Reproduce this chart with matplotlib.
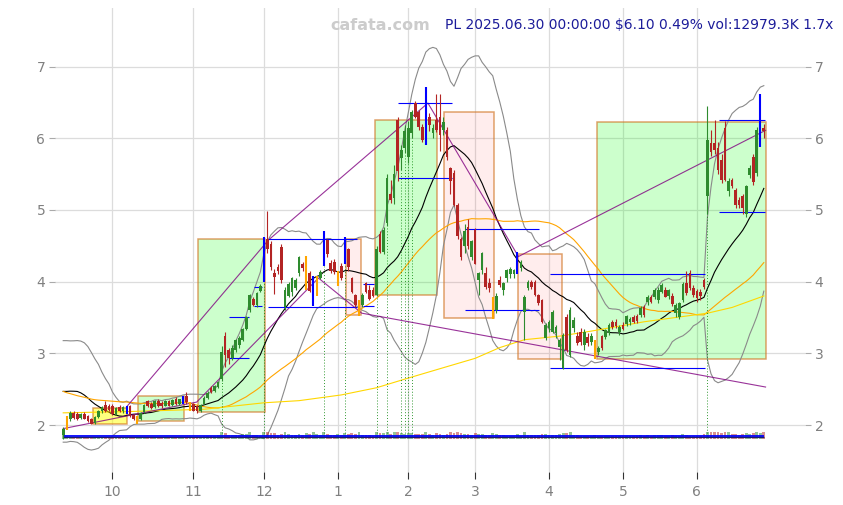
import numpy as np
import pandas as pd
import matplotlib
matplotlib.use("Agg")
import matplotlib.pyplot as plt
from matplotlib.patches import Rectangle

# ---------------- data ----------------
holidays = ["2024-11-28", "2024-12-25", "2025-01-01", "2025-01-09", "2025-01-20",
            "2025-02-17", "2025-04-18", "2025-05-26", "2025-06-19"]
dates = pd.bdate_range("2024-09-11", "2025-06-30", freq="C", holidays=holidays)

# closes of the 19 sessions before the first candle (estimated from where the
# moving average and bands start on the left edge)
prior_closes = [2.08, 2.10, 2.12, 2.15, 2.55, 2.70, 2.85, 2.95, 2.90, 2.80,
                2.88, 2.75, 2.65, 2.70, 2.55, 2.45, 2.30, 2.05, 1.90]

opens = [
    1.86, 1.95, 2.08, 2.17, 2.16, 2.10, 2.16, 2.12, 2.09, 2.03,
    2.11, 2.19, 2.28, 2.26, 2.26, 2.16, 2.25, 2.19, 2.16, 2.27,
    2.14, 2.04, 2.09, 2.18, 2.33, 2.30, 2.25, 2.34, 2.31, 2.27,
    2.33, 2.28, 2.36, 2.29, 2.31, 2.40, 2.22, 2.29, 2.26, 2.19,
    2.30, 2.38, 2.52, 2.47, 2.53, 2.64, 3.24, 3.05, 2.93, 3.05,
    3.11, 3.19, 3.34, 3.60, 3.76, 3.67, 3.87, 4.07, 4.60, 4.52,
    4.12, 4.21, 4.48, 3.65, 3.80, 3.86, 3.91, 4.12, 4.24, 3.93,
    4.12, 3.68, 3.88, 4.05, 4.25, 4.58, 4.26, 4.28, 3.96, 4.22,
    4.27, 4.45, 4.05, 3.81, 3.53, 3.67, 3.98, 3.88, 3.88, 3.82,
    4.66, 4.42, 4.82, 5.22, 5.17, 6.26, 5.72, 5.86, 5.74, 6.07,
    6.49, 6.37, 6.16, 6.00, 6.30, 6.07, 6.26, 6.30, 6.12, 6.12,
    5.58, 5.51, 5.07, 4.60, 4.49, 4.76, 4.35, 4.72, 4.02, 4.16,
    4.12, 3.98, 3.62, 3.60, 4.02, 3.88, 4.05, 4.10, 4.10, 4.12,
    4.19, 3.58, 3.91, 4.00, 4.00, 3.81, 3.74, 3.21, 3.35, 3.30,
    3.28, 3.09, 2.80, 3.51, 2.98, 3.36, 3.24, 3.30, 3.12, 3.23,
    3.16, 2.96, 3.02, 3.24, 3.23, 3.28, 3.44, 3.44, 3.30, 3.40,
    3.41, 3.43, 3.51, 3.52, 3.53, 3.65, 3.71, 3.79, 3.79, 3.74,
    3.86, 3.88, 3.80, 3.80, 3.56, 3.51, 3.74, 3.98, 4.12, 3.91,
    3.87, 3.86, 4.02, 5.20, 5.93, 5.93, 5.86, 5.70, 6.14, 5.26,
    5.42, 5.28, 5.14, 5.19, 4.95, 5.49, 5.74, 5.51, 5.92, 6.14,
]
highs = [
    1.97, 2.12, 2.19, 2.19, 2.18, 2.17, 2.18, 2.14, 2.10, 2.12,
    2.21, 2.27, 2.33, 2.29, 2.30, 2.25, 2.28, 2.26, 2.27, 2.28,
    2.16, 2.13, 2.18, 2.29, 2.35, 2.32, 2.35, 2.36, 2.33, 2.35,
    2.35, 2.36, 2.39, 2.37, 2.40, 2.46, 2.32, 2.31, 2.28, 2.30,
    2.40, 2.47, 2.54, 2.56, 2.62, 3.10, 3.30, 3.08, 3.12, 3.20,
    3.24, 3.36, 3.52, 3.83, 3.78, 3.86, 3.96, 4.62, 4.99, 4.56,
    4.18, 4.25, 4.52, 3.92, 4.00, 4.07, 4.05, 4.36, 4.28, 4.36,
    4.15, 4.08, 4.08, 4.16, 4.70, 4.60, 4.30, 4.32, 4.15, 4.26,
    4.62, 4.47, 4.06, 3.83, 3.74, 3.84, 4.00, 3.95, 3.92, 4.50,
    4.70, 4.76, 5.50, 5.42, 5.62, 6.30, 5.90, 6.18, 6.24, 6.40,
    6.52, 6.40, 6.20, 6.72, 6.35, 6.20, 6.62, 6.62, 6.30, 6.15,
    5.60, 5.55, 5.10, 4.62, 4.80, 4.88, 4.58, 4.75, 4.14, 4.42,
    4.20, 4.05, 3.78, 3.84, 4.08, 4.00, 4.18, 4.20, 4.18, 4.42,
    4.30, 3.82, 4.02, 4.02, 4.02, 3.83, 3.76, 3.42, 3.46, 3.60,
    3.40, 3.22, 3.28, 3.55, 3.65, 3.50, 3.30, 3.36, 3.34, 3.28,
    3.28, 3.18, 3.10, 3.26, 3.34, 3.42, 3.46, 3.48, 3.40, 3.44,
    3.54, 3.50, 3.54, 3.55, 3.66, 3.68, 3.82, 3.82, 3.91, 3.92,
    3.98, 3.92, 3.90, 3.84, 3.70, 3.72, 4.00, 4.15, 4.16, 3.95,
    3.90, 3.90, 4.05, 6.45, 6.12, 6.25, 5.95, 5.78, 6.24, 5.45,
    5.45, 5.30, 5.18, 5.22, 5.35, 5.62, 5.78, 6.15, 6.62, 6.20,
]
lows = [
    1.80, 1.93, 2.06, 2.09, 2.07, 2.08, 2.08, 2.04, 2.01, 2.02,
    2.10, 2.17, 2.18, 2.19, 2.14, 2.14, 2.18, 2.17, 2.15, 2.11,
    2.07, 2.01, 2.07, 2.17, 2.25, 2.23, 2.24, 2.25, 2.24, 2.26,
    2.26, 2.27, 2.28, 2.28, 2.30, 2.30, 2.19, 2.19, 2.17, 2.18,
    2.29, 2.37, 2.44, 2.46, 2.52, 2.62, 2.81, 2.85, 2.90, 3.02,
    3.08, 3.17, 3.32, 3.58, 3.66, 3.65, 3.86, 4.00, 4.40, 4.16,
    3.83, 4.10, 3.98, 3.60, 3.78, 3.80, 3.88, 4.08, 4.15, 3.88,
    3.85, 3.66, 3.80, 4.03, 4.22, 4.35, 4.12, 4.10, 3.94, 4.02,
    4.25, 4.15, 3.84, 3.65, 3.52, 3.65, 3.84, 3.74, 3.78, 3.80,
    4.40, 4.38, 4.78, 5.10, 5.08, 5.40, 5.55, 5.80, 5.65, 6.00,
    6.28, 6.12, 5.95, 5.90, 6.10, 6.00, 6.08, 5.82, 6.05, 5.70,
    5.22, 5.05, 4.60, 4.30, 4.40, 4.45, 4.30, 4.24, 3.81, 4.10,
    3.90, 3.85, 3.48, 3.56, 3.92, 3.82, 4.00, 4.05, 4.05, 4.10,
    4.15, 3.18, 3.88, 3.90, 3.80, 3.68, 3.42, 3.18, 3.30, 3.28,
    3.22, 2.90, 2.78, 3.02, 2.95, 3.30, 3.12, 3.12, 3.05, 3.10,
    3.12, 2.92, 2.98, 3.05, 3.20, 3.25, 3.34, 3.36, 3.26, 3.32,
    3.38, 3.40, 3.42, 3.42, 3.50, 3.50, 3.68, 3.70, 3.76, 3.70,
    3.84, 3.78, 3.76, 3.66, 3.50, 3.48, 3.72, 3.82, 3.88, 3.78,
    3.72, 3.75, 3.90, 4.95, 5.75, 5.78, 5.50, 5.38, 5.40, 5.20,
    5.30, 5.02, 5.02, 4.95, 4.90, 5.45, 5.35, 5.48, 5.88, 6.00,
]
closes = [
    1.95, 2.08, 2.17, 2.10, 2.09, 2.15, 2.09, 2.05, 2.02, 2.11,
    2.19, 2.25, 2.20, 2.21, 2.16, 2.24, 2.19, 2.25, 2.26, 2.13,
    2.08, 2.12, 2.17, 2.28, 2.26, 2.24, 2.33, 2.26, 2.26, 2.34,
    2.27, 2.35, 2.30, 2.36, 2.39, 2.32, 2.31, 2.20, 2.19, 2.28,
    2.38, 2.45, 2.46, 2.55, 2.60, 3.02, 2.98, 2.93, 3.08, 3.18,
    3.22, 3.34, 3.51, 3.81, 3.67, 3.84, 3.94, 4.56, 4.45, 4.20,
    4.07, 4.15, 4.02, 3.88, 3.97, 4.05, 4.02, 4.35, 4.19, 4.34,
    3.87, 4.02, 4.04, 4.13, 4.62, 4.38, 4.15, 4.14, 4.13, 4.05,
    4.55, 4.20, 3.86, 3.67, 3.70, 3.82, 3.86, 3.76, 3.80, 4.46,
    4.42, 4.72, 5.44, 5.14, 5.50, 5.54, 5.84, 6.10, 6.14, 6.37,
    6.30, 6.16, 5.98, 6.48, 6.19, 6.14, 6.12, 6.05, 6.23, 5.74,
    5.40, 5.07, 4.63, 4.35, 4.70, 4.50, 4.56, 4.25, 4.12, 4.40,
    3.93, 3.91, 3.74, 3.80, 3.95, 3.98, 4.16, 4.17, 4.16, 4.38,
    4.27, 3.79, 4.00, 3.92, 3.82, 3.70, 3.44, 3.40, 3.44, 3.58,
    3.37, 3.19, 3.26, 3.05, 3.61, 3.47, 3.15, 3.16, 3.30, 3.15,
    3.24, 3.14, 3.08, 3.07, 3.32, 3.40, 3.37, 3.38, 3.37, 3.34,
    3.52, 3.48, 3.44, 3.45, 3.63, 3.53, 3.79, 3.72, 3.89, 3.89,
    3.95, 3.79, 3.88, 3.69, 3.68, 3.70, 3.97, 3.84, 3.91, 3.81,
    3.77, 3.80, 3.93, 5.97, 5.81, 5.84, 5.56, 5.42, 5.42, 5.40,
    5.33, 5.07, 5.07, 5.02, 5.33, 5.58, 5.39, 6.12, 6.07, 6.10,
]
volumes_m = [
    9.0, 5.5, 3.2, 2.6, 2.4, 2.2, 2.5, 4.8, 3.0, 2.4, 2.8, 3.1, 3.4, 2.7, 2.9, 2.2, 2.3, 2.1, 3.6, 3.0,
    2.8, 3.3, 2.4, 3.5, 3.1, 2.2, 2.5, 2.3, 2.4, 2.6, 2.0, 2.4, 2.7, 2.3, 3.9, 3.6, 2.9,
    3.0, 2.8, 3.4, 6.5, 7.2, 6.0, 6.8, 7.5, 14.0, 12.5, 8.9, 8.2, 7.6, 7.8, 9.4, 10.8, 13.5, 9.0, 8.7, 7.2,
    16.5, 15.0, 11.0, 12.3, 8.8, 10.5, 14.2, 9.4, 8.6, 8.1, 10.9, 7.9, 11.8, 9.6, 13.0, 9.2, 7.5, 14.5, 10.1, 7.4, 8.0,
    9.5, 8.7, 12.6, 10.2, 11.4, 9.8, 13.3, 9.0, 8.3, 7.9, 7.1, 14.8, 12.0, 11.5, 16.2, 10.5, 12.8, 17.5, 11.0, 10.4,
    11.8, 12.5, 10.9, 9.6, 9.1, 18.0, 9.5, 8.4, 11.2, 10.8, 8.9, 10.6, 13.4, 12.1, 14.9, 11.3, 10.2, 9.8, 8.7,
    11.5, 10.4, 9.2, 8.8, 8.1, 12.7, 9.9, 8.0, 7.6, 7.2, 6.9, 7.1, 10.5, 6.8, 13.6, 9.0, 7.4, 7.8, 8.3, 9.5, 10.7,
    8.2, 8.9, 7.7, 9.8, 12.4, 11.1, 12.9, 8.0, 7.4, 6.9, 7.1, 6.5, 6.2, 8.8, 6.0, 6.7, 6.4, 7.2, 6.1, 5.8, 6.3,
    6.5, 7.0, 6.2, 5.9, 6.1, 7.3, 6.8, 8.5, 6.4, 7.9, 7.5, 7.8, 6.9, 6.3, 7.6, 6.6, 7.0, 9.8, 8.7, 7.1, 6.4,
    6.9, 6.7, 9.6, 38.5, 18.2, 14.0, 12.8, 11.9, 22.4, 13.1, 9.9, 10.7, 8.8, 9.4, 12.2, 10.6, 11.3, 16.8, 12.6, 12.98,
]

# specially marked candles
blue_idx = [18, 34, 57, 71, 74, 80, 103, 129, 198]
orange_idx = [1, 21, 36, 69, 72, 78, 84, 122, 151]
signal_idx = [45, 57, 74, 80, 89, 92, 96, 97, 98, 99, 183]

# long moving average (candle index, value)
ma_long_idx = [0, 20, 40, 57, 67, 79, 89, 97, 108, 117, 124, 131, 141, 150, 165, 183, 190, 199]
ma_long_val = [2.17, 2.19, 2.22, 2.31, 2.34, 2.42, 2.52, 2.64, 2.80, 2.93, 3.08, 3.19, 3.24, 3.31, 3.44, 3.56, 3.64, 3.80]

# zones (candle index range, price range, kind)
box_start = [8.4, 21.3, 38.4, 80.3, 88.6, 108.3, 129.3, 151.6]
box_end = [18.2, 34.4, 57.3, 84.5, 106.2, 122.5, 141.6, 199.6]
box_low = [2.01, 2.06, 2.18, 3.53, 3.81, 3.49, 2.92, 2.92]
box_high = [2.24, 2.40, 4.59, 4.59, 6.26, 6.37, 4.39, 6.22]
box_kind = ["yellow", "green", "green", "pink", "green", "pink", "pink", "green"]

# zigzag trend lines
zz_a_idx = [0, 37.9, 72.5, 84.8, 199.5]
zz_a_val = [1.95, 2.32, 4.05, 3.56, 2.53]
zz_b_idx = [18.2, 58.3, 103.6, 129.3, 199.5]
zz_b_val = [2.265, 4.58, 6.49, 4.35, 6.11]

# support / resistance segments
seg_x0 = [47.1, 47.1, 54.2, 54.2, 58.2, 58.2, 85.1, 85.1, 95.2, 95.2, 114.1, 114.1, 138.3, 138.3, 186.4, 186.4]
seg_x1 = [52.8, 52.8, 56.5, 56.5, 83.4, 83.4, 88.4, 88.4, 110.4, 110.4, 135.2, 135.2, 182.3, 182.3, 199.4, 199.4]
seg_y = [3.50, 2.93, 3.92, 3.66, 4.60, 3.64, 3.97, 3.66, 6.49, 5.44, 4.73, 3.60, 4.10, 2.80, 6.25, 4.97]

title_text = "PL 2025.06.30 00:00:00 $6.10 0.49% vol:12979.3K 1.7x"
watermark = "cafata.com"

# ---------------- figure ----------------
O = np.array(opens); H = np.array(highs); L = np.array(lows); C = np.array(closes)
V = np.array(volumes_m)
n = len(C)
x = np.arange(n)
if len(dates) != n:
    dates = pd.bdate_range("2024-09-11", periods=n, freq="C", holidays=holidays)

fig = plt.figure(figsize=(8.43, 5.05), dpi=100)
ax = fig.add_axes([55 / 843, 33 / 505, 750 / 843, 464 / 505])
for s in ax.spines.values():
    s.set_visible(False)

GREEN = "#2e8b2e"
RED = "#b32424"

# zones
fills = {"green": ("#00ff00", 0.2), "pink": ("#ff0000", 0.07), "yellow": ("#ffff00", 0.5)}
for x0, x1, y0, y1, k in zip(box_start, box_end, box_low, box_high, box_kind):
    fc, a = fills[k]
    ax.add_patch(Rectangle((x0, y0), x1 - x0, y1 - y0, facecolor=fc, alpha=a,
                           edgecolor="none", zorder=1))
    ax.add_patch(Rectangle((x0, y0), x1 - x0, y1 - y0, facecolor="none",
                           edgecolor=(0.82, 0.45, 0.12, 0.65), lw=1.1, zorder=1.5))

# indicators (computed on prior sessions + visible sessions, shown for visible)
ext = pd.Series(list(prior_closes) + list(closes))
k0 = len(prior_closes)
ma20 = ext.rolling(20, min_periods=1).mean().values[k0:]
sd20 = ext.rolling(20, min_periods=2).std().values[k0:]
ma50 = ext.rolling(50, min_periods=1).mean().values[k0:]
ax.plot(x, ma20 + 2 * sd20, color="#8a8a8a", lw=0.8, zorder=2)
ax.plot(x, ma20 - 2 * sd20, color="#8a8a8a", lw=0.8, zorder=2)
ax.plot(x, ma20, color="black", lw=0.8, zorder=2)
ax.plot(x, ma50, color="orange", lw=0.8, zorder=2)
ax.plot(ma_long_idx, ma_long_val, color="gold", lw=0.8, zorder=2)

# signal verticals
for i in signal_idx:
    ax.vlines(i, 1.85, L[i], color="green", lw=0.7, linestyles=(0, (1, 2)), alpha=0.8, zorder=2)

# trend lines
ax.plot(zz_a_idx, zz_a_val, color="purple", lw=0.8, alpha=0.8, zorder=3)
ax.plot(zz_b_idx, zz_b_val, color="purple", lw=0.8, alpha=0.8, zorder=3)

# support / resistance
ax.hlines(seg_y, seg_x0, seg_x1, color="blue", lw=0.8, zorder=3)

# candles
special = set(blue_idx) | set(orange_idx)
norm = np.array([i for i in range(n) if i not in special])
up = C >= O
cols = np.where(up, GREEN, RED)
ax.vlines(norm, L[norm], H[norm], color=cols[norm], lw=0.8, zorder=4)
body_b = np.minimum(O, C)
body_h = np.maximum(np.abs(C - O), 0.012)
ax.bar(norm, body_h[norm], bottom=body_b[norm], width=0.75, color=cols[norm], zorder=4)
ax.vlines(blue_idx, L[blue_idx], H[blue_idx], color="blue", lw=1.5, zorder=5)
ax.vlines(orange_idx, L[orange_idx], H[orange_idx], color="orange", lw=1.5, zorder=5)

# volume strip
vol_base = 1.80
vh = np.minimum(V * 0.0075, 0.1)
ax.bar(x, vh, bottom=vol_base, width=0.8, color=cols, alpha=0.5, zorder=3)
ax.hlines([1.853], 0, n - 1, color="blue", lw=1.3, zorder=3.5)
ax.hlines([1.840], 0, n - 1, color="#1a1a6e", lw=0.9, zorder=3.5)

# axes
month_pos = [i for i in range(1, n) if dates[i].month != dates[i - 1].month]
month_lab = [str(dates[i].month) for i in month_pos]
ax.set_xticks(month_pos)
ax.set_xticklabels(month_lab)
ax.set_yticks([2, 3, 4, 5, 6, 7])
ax.set_xlim(-2.33, 210.7)
ax.set_ylim(1.345, 7.816)
ax.grid(True, color="#dcdcdc", lw=0.9)
ax.set_axisbelow(True)
ax.tick_params(axis="both", labelsize=10, labelcolor="#808080")
ax.tick_params(axis="y", left=True, right=True, labelleft=True, labelright=True,
               length=4, color="#aaaaaa", pad=3)
ax.tick_params(axis="x", length=5, color="#333333", pad=4)

fig.text(380.5 / 843, 1 - 25 / 505, watermark, color="#cccccc", fontsize=11.5,
         fontweight="bold", ha="center", va="center")
fig.text(833 / 843, 1 - 25 / 505, title_text, color="#1c1c9a", fontsize=10,
         ha="right", va="center")

fig.savefig("out.png", dpi=100)
